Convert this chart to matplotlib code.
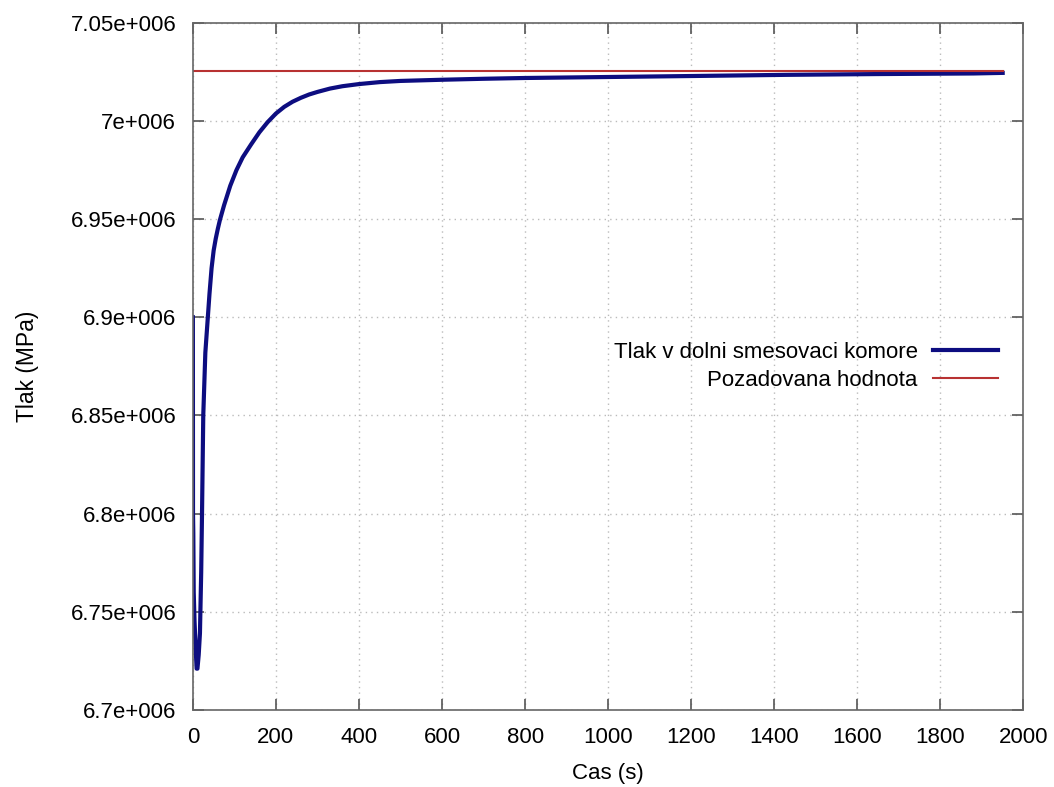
import matplotlib
matplotlib.use("Agg")
import matplotlib.pyplot as plt
from matplotlib.ticker import FuncFormatter

# simulated pressure in the lower mixing chamber
t_sim = [0, 0.3, 1, 2, 4, 7, 9, 11, 14, 17, 20, 22, 25, 30, 36,
         40, 45, 50, 55, 60, 65, 75, 90, 105, 120, 140, 160, 180, 200,
         220, 240, 260, 280, 300, 330, 360, 400, 450, 500, 550, 600,
         700, 800, 1000, 1200, 1430, 1650, 1880, 1950]
p_sim = [6.900e6, 6.800e6, 6.790e6, 6.760e6, 6.745e6, 6.730e6, 6.721e6,
         6.721e6, 6.728e6, 6.739e6, 6.770e6, 6.800e6, 6.850e6, 6.882e6,
         6.900e6, 6.912e6, 6.925e6, 6.934e6, 6.940e6, 6.945e6, 6.9495e6,
         6.957e6, 6.967e6, 6.975e6, 6.9815e6, 6.988e6, 6.9942e6, 6.9994e6,
         7.0038e6, 7.0072e6, 7.0098e6, 7.0118e6, 7.0135e6, 7.0148e6,
         7.0165e6, 7.0177e6, 7.0188e6, 7.0198e6, 7.0204e6, 7.0207e6,
         7.0210e6, 7.0215e6, 7.0219e6, 7.0224e6, 7.0229e6, 7.0235e6,
         7.0239e6, 7.0242e6, 7.0245e6]

# set point
t_ref = [0, 1950]
p_ref = [7.0255e6, 7.0255e6]

x_ticks = list(range(0, 2001, 200))
y_ticks = [6.70e6, 6.75e6, 6.80e6, 6.85e6, 6.90e6, 6.95e6, 7.00e6, 7.05e6]

plt.rcParams["font.family"] = ["Liberation Sans", "DejaVu Sans"]


def gnuplot_fmt(v, pos):
    # gnuplot-like "%g" with 3-digit exponent: 6.95e+006
    s = "%g" % v
    mant, exp = s.split("e")
    return "%se%s%03d" % (mant, exp[0], int(exp[1:]))


fig = plt.figure(figsize=(10.54, 7.87), dpi=100)
ax = fig.add_axes([0.183, 0.098, 0.788, 0.873])

ax.plot(t_sim, p_sim, color="#0d0d80", lw=3.0,
        label="Tlak v dolni smesovaci komore")
ax.plot(t_ref, p_ref, color="#b83232", lw=1.5, label="Pozadovana hodnota")

ax.set_xlim(0, 2000)
ax.set_ylim(6.7e6, 7.05e6)
ax.set_xticks(x_ticks)
ax.set_yticks(y_ticks)
ax.yaxis.set_major_formatter(FuncFormatter(gnuplot_fmt))

ax.grid(True, color="#bbbbbb", linestyle=(0, (1, 3)), lw=1.0)
ax.tick_params(direction="in", length=8, width=1.2, color="#555555",
               labelsize=16, top=True, right=True, pad=12)
for sp in ax.spines.values():
    sp.set_color("#666666")
    sp.set_linewidth(1.2)

ax.set_xlabel("Cas (s)", fontsize=16, labelpad=11)
ax.set_ylabel("Tlak (MPa)", fontsize=16.5, labelpad=23)

ax.legend(loc="center right", bbox_to_anchor=(0.993, 0.50), frameon=False,
          markerfirst=False, fontsize=16, handlelength=2.9,
          handletextpad=0.7, labelspacing=0.3)

fig.savefig("out.png", dpi=100)
